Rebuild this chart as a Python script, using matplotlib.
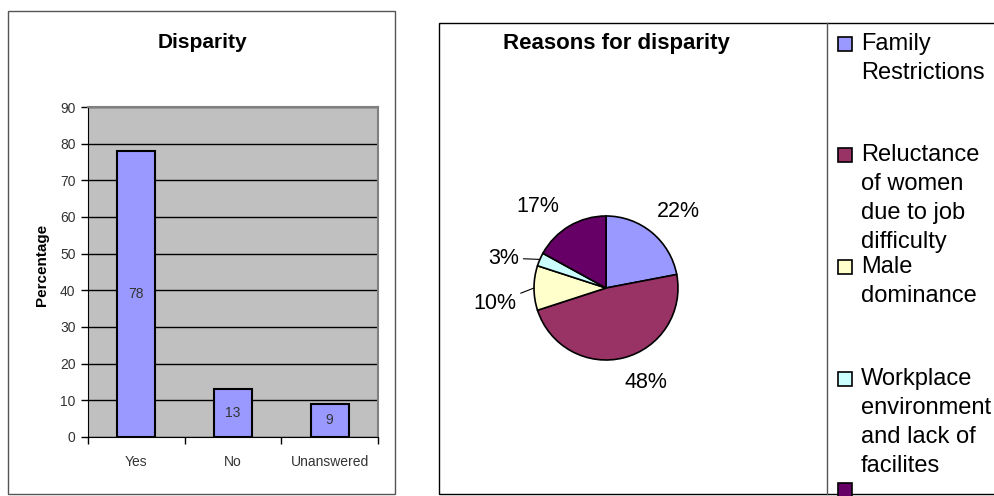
import matplotlib
matplotlib.use("Agg")
import matplotlib.pyplot as plt
from matplotlib.patches import Rectangle
from matplotlib.lines import Line2D
import numpy as np

plt.rcParams['font.family'] = ['Liberation Sans', 'DejaVu Sans']

# --- data ---
respuestas = ['Yes', 'No', 'Unanswered']
porcentajes = [78, 13, 9]

razones = ['Family\nRestrictions',
           'Reluctance\nof women\ndue to job\ndifficulty',
           'Male\ndominance',
           'Workplace\nenvironment\nand lack of\nfacilites',
           '']
razones_pct = [22, 48, 10, 3, 17]
cores_pizza = ['#9999FF', '#993366', '#FFFFCC', '#CCFFFF', '#660066']

W, H = 994, 496


def px(x, y, w=0, h=0):
    # pixel box (top-left origin) -> figure fraction
    return [x / W, (H - y - h) / H, w / W, h / H]


fig = plt.figure(figsize=(W / 100, H / 100), dpi=100)

# moldura do grafico de barras
fig.patches.append(Rectangle((8 / W, (H - 494) / H), 387 / W, 483 / H,
                             transform=fig.transFigure, fill=False,
                             edgecolor='#555555', lw=1))
# moldura do grafico de pizza (sai pela direita)
fig.patches.append(Rectangle((439 / W, (H - 494) / H), 600 / W, 471 / H,
                             transform=fig.transFigure, fill=False,
                             edgecolor='black', lw=1))
fig.lines.append(Line2D([827 / W, 827 / W], [(H - 494) / H, (H - 23) / H],
                        transform=fig.transFigure, color='#555555', lw=1))

# ---------------- barras ----------------
ax = fig.add_axes(px(88, 107, 290, 330))
ax.set_facecolor('#C0C0C0')
x = np.arange(len(respuestas))
barras = ax.bar(x, porcentajes, width=0.39, color='#9999FF',
                edgecolor='black', lw=1.5, zorder=3)
for b, v in zip(barras, porcentajes):
    ax.text(b.get_x() + b.get_width() / 2, v / 2, str(v), ha='center',
            va='center', fontsize=10, color='#333333', zorder=4)

ax.set_xlim(-0.5, len(respuestas) - 0.5)
ax.set_ylim(0, 90)
ax.set_yticks(range(0, 91, 10))
ax.yaxis.grid(True, color='black', lw=1, zorder=1)
ax.set_xticks(np.arange(-0.5, len(respuestas), 1.0))
ax.set_xticklabels([])
ax.set_xticks(x, minor=True)
ax.set_xticklabels(respuestas, minor=True)
ax.tick_params(axis='x', which='major', length=5, width=1, direction='out')
ax.tick_params(axis='x', which='minor', length=0, pad=13,
               labelsize=10, labelcolor='#333333')
ax.tick_params(axis='y', length=5, width=1, direction='out', pad=4,
               labelsize=10, labelcolor='#333333')
for s in ['top', 'right']:
    ax.spines[s].set_color('#808080')
    ax.spines[s].set_linewidth(1.5)
for s in ['left', 'bottom']:
    ax.spines[s].set_color('black')
ax.set_ylabel('Percentage', fontsize=11, fontweight='bold')
ax.yaxis.set_label_coords(-0.135, 0.52)
fig.text(202 / W, (H - 42) / H, 'Disparity', ha='center', va='center',
         fontsize=15, fontweight='bold')

# ---------------- pizza ----------------
axp = fig.add_axes(px(516, 198, 180, 180))
fatias, _ = axp.pie(razones_pct, colors=cores_pizza, startangle=90,
                    counterclock=False,
                    wedgeprops=dict(edgecolor='black', linewidth=1.2))
axp.set_xlim(-1.25, 1.25)
axp.set_ylim(-1.25, 1.25)

# deslocamento dos rotulos (pontos) a partir da borda de cada fatia
desloc = [(19, 15), (16, -18), (-28, -11), (-26, 1), (-23, 14)]
com_linha = [False, False, True, True, False]
for w, pct, d, linha in zip(fatias, razones_pct, desloc, com_linha):
    ang = np.deg2rad((w.theta1 + w.theta2) / 2)
    borda = (np.cos(ang), np.sin(ang))
    props = dict(arrowstyle='-', lw=0.8, color='black',
                 shrinkA=1, shrinkB=0) if linha else None
    axp.annotate(f'{pct}%', xy=borda, xytext=d, textcoords='offset points',
                 ha='center', va='center', fontsize=15.5, arrowprops=props)

fig.text(616 / W, (H - 44) / H, 'Reasons for disparity', ha='center',
         va='center', fontsize=16, fontweight='bold')

# legenda feita a mao
topos = [37, 148, 260, 372, 483]
for topo, cor, rotulo in zip(topos, cores_pizza, razones):
    fig.patches.append(Rectangle((838 / W, (H - topo - 14) / H), 14 / W, 14 / H,
                                 transform=fig.transFigure, facecolor=cor,
                                 edgecolor='black', lw=1.2))
    fig.text(861 / W, (H - topo + 4) / H, rotulo, ha='left', va='top',
             fontsize=17, linespacing=1.42)

fig.savefig('out.png', dpi=100)
